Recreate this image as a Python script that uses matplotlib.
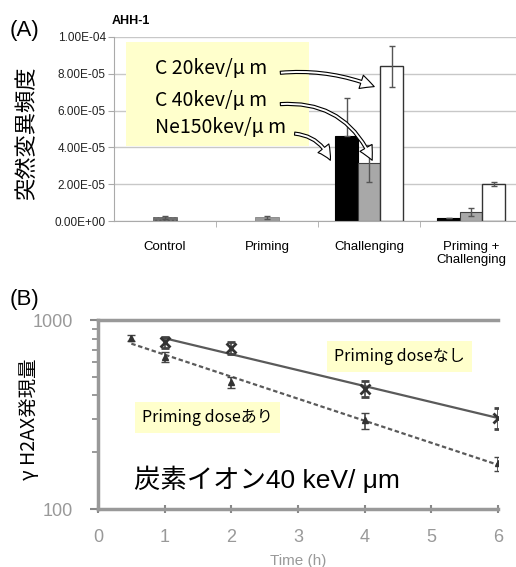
import matplotlib
matplotlib.use('Agg')
import matplotlib.pyplot as plt
from matplotlib.patches import Rectangle
from matplotlib.ticker import NullFormatter
import numpy as np

plt.rcParams['font.family'] = ['Liberation Sans', 'Noto Sans CJK JP', 'DejaVu Sans']
JP = ['Noto Sans CJK JP', 'DejaVu Sans']

# ---- panel A data: mutation frequency ----
categories = ['Control', 'Priming', 'Challenging', 'Priming +\nChallenging']
control_val, control_err = 2.0e-6, 0.8e-6
priming_val, priming_err = 2.0e-6, 0.8e-6
c20_val = [8.4e-5, 2.0e-5]     # Challenging, Priming+Challenging (white)
c20_err = [1.1e-5, 0.1e-5]
c40_val = [3.15e-5, 5.0e-6]    # grey
c40_err = [1.0e-5, 2.3e-6]
ne150_val = [4.6e-5, 1.5e-6]   # black
ne150_err = [2.1e-5, 0.0]
yticks_a = [0, 2e-5, 4e-5, 6e-5, 8e-5, 1e-4]
ytick_labels_a = ['0.00E+00', '2.00E-05', '4.00E-05', '6.00E-05', '8.00E-05', '1.00E-04']

# ---- panel B data: gamma-H2AX expression ----
t_with = [0.5, 1, 2, 4, 6]
v_with = [810, 640, 470, 295, 175]
e_with = [30, 40, 30, 30, 15]
t_without = [1, 2, 4, 6]
v_without = [765, 715, 435, 305]
e_without = [50, 50, 40, 40]

fig = plt.figure(figsize=(5.16, 5.67), dpi=100)

# ================= (A) =================
ax = fig.add_axes([0.221, 0.610, 0.791, 0.325])
w = 0.22
x = np.arange(len(categories))
ekw = dict(ecolor='#555555', elinewidth=1, capsize=2, capthick=1)
ax.bar(x[0], control_val, w + 0.02, color='#707070', edgecolor='#555555', hatch='....',
       linewidth=0.5, yerr=control_err, error_kw=ekw)
ax.bar(x[1], priming_val, w + 0.02, color='#9a9a9a', edgecolor='#777777',
       linewidth=0.5, yerr=priming_err, error_kw=ekw)
xx = x[2:]
ax.bar(xx - w, ne150_val, w, color='black', edgecolor='black', linewidth=0.8,
       yerr=[[0, 0], ne150_err], error_kw=ekw)
ax.bar(xx, c40_val, w, color='#a8a8a8', edgecolor='#404040', linewidth=0.8,
       yerr=c40_err, error_kw=ekw)
ax.bar(xx + w, c20_val, w, color='white', edgecolor='#333333', linewidth=1,
       yerr=c20_err, error_kw=ekw)

ax.set_xlim(-0.5, 3.5)
ax.set_ylim(0, 1e-4)
ax.set_yticks(yticks_a)
ax.set_yticklabels(ytick_labels_a, fontsize=8.5, color='#222222')
ax.yaxis.grid(True, color='#c8c8c8', linewidth=1)
ax.set_axisbelow(True)
ax.set_xticks(x)
ax.set_xticklabels(categories, fontsize=9.5)
ax.set_xticks(np.arange(0.5, 3.5, 1), minor=True)
ax.tick_params(axis='x', which='major', length=0, pad=14)
ax.tick_params(axis='x', which='minor', length=4, color='#aaaaaa')
ax.tick_params(axis='y', length=4, color='#aaaaaa', pad=2)
for s in ['top', 'right']:
    ax.spines[s].set_visible(False)
ax.spines['left'].set_color('#aaaaaa')
ax.spines['bottom'].set_color('#aaaaaa')

ax.add_patch(Rectangle((0.029, 0.408), 0.449, 0.565, transform=ax.transAxes,
                       facecolor='#ffffcc', edgecolor='none', zorder=1))
ax.text(0.10, 0.83, 'C 20kev/\u03bc m', transform=ax.transAxes, fontsize=14, va='center', family=JP)
ax.text(0.10, 0.655, 'C 40kev/\u03bc m', transform=ax.transAxes, fontsize=14, va='center', family=JP)
ax.text(0.10, 0.51, 'Ne150kev/\u03bc m', transform=ax.transAxes, fontsize=14, va='center', family=JP)

astyle = 'simple,head_width=1.0,head_length=1.0,tail_width=0.22'
akw = dict(arrowstyle=astyle, fc='white', ec='black', lw=0.8, shrinkA=0, shrinkB=0)
ax.annotate('', xy=(2.05, 7.3e-5), xytext=(1.13, 8.05e-5),
            arrowprops=dict(connectionstyle='arc3,rad=-0.12', **akw))
ax.annotate('', xy=(2.03, 3.3e-5), xytext=(1.13, 6.35e-5),
            arrowprops=dict(connectionstyle='arc3,rad=-0.35', **akw))
ax.annotate('', xy=(1.62, 3.3e-5), xytext=(1.27, 4.75e-5),
            arrowprops=dict(connectionstyle='arc3,rad=-0.3', **akw))

fig.text(0.217, 0.963, 'AHH-1', fontsize=9, fontweight='bold', va='center')
fig.text(0.018, 0.947, '(A)', fontsize=16, va='center')
fig.text(0.052, 0.765, '突然変異頻度', fontsize=16, rotation=90, va='center', ha='center', family=JP)

# ================= (B) =================
bx = fig.add_axes([0.190, 0.102, 0.775, 0.333])
gcol = '#5a5a5a'

def fitline(t, v):
    p = np.polyfit(t, np.log10(v), 1)
    tt = np.array([t[0], t[-1]])
    return tt, 10 ** np.polyval(p, tt)

tt, ff = fitline(t_with, v_with)
bx.plot(tt, ff, color=gcol, lw=1.6, ls=(0, (2, 1.2)))
tt, ff = fitline(t_without, v_without)
bx.plot(tt, ff, color=gcol, lw=1.6)
bx.errorbar(t_with, v_with, yerr=e_with, fmt='^', ms=5, color='#333333',
            ecolor='#444444', capsize=3, elinewidth=1.2, zorder=4)
bx.errorbar(t_without, v_without, yerr=e_without, fmt='x', ms=7, mew=2, color='#333333',
            ecolor='#444444', capsize=3, elinewidth=1.2, zorder=4)

bx.set_yscale('log')
bx.set_ylim(100, 1000)
bx.set_xlim(0, 6)
bx.set_yticks([100, 1000])
bx.set_yticklabels(['100', '1000'])
bx.yaxis.set_minor_formatter(NullFormatter())
bx.set_xticks(range(7))
bx.tick_params(axis='both', colors='#888888', labelcolor='#999999', labelsize=13, width=1.5)
bx.tick_params(axis='y', which='major', length=6, pad=12)
bx.tick_params(axis='y', which='minor', length=4, width=1.2, color='#888888')
bx.tick_params(axis='x', direction='inout', length=6, pad=11)
bx.spines['right'].set_visible(False)
for s in ['top', 'left', 'bottom']:
    bx.spines[s].set_color('#999999')
    bx.spines[s].set_linewidth(2.5)
bx.set_xlabel('Time (h)', color='#999999', fontsize=11, labelpad=6)

bx.text(0.59, 0.81, 'Priming doseなし', transform=bx.transAxes, fontsize=11.5, va='center',
        family=JP, bbox=dict(boxstyle='square,pad=0.45', fc='#ffffcc', ec='none'))
bx.text(0.11, 0.485, 'Priming doseあり', transform=bx.transAxes, fontsize=11.5, va='center',
        family=JP, bbox=dict(boxstyle='square,pad=0.45', fc='#ffffcc', ec='none'))
bx.text(0.09, 0.16, '炭素イオン40 keV/ \u03bcm', transform=bx.transAxes, fontsize=19, va='center')

fig.text(0.018, 0.471, '(B)', fontsize=16, va='center')
fig.text(0.058, 0.26, '\u03b3 H2AX発現量', fontsize=14, rotation=90, va='center', ha='center', family=JP)

fig.savefig('out.png', dpi=100)
